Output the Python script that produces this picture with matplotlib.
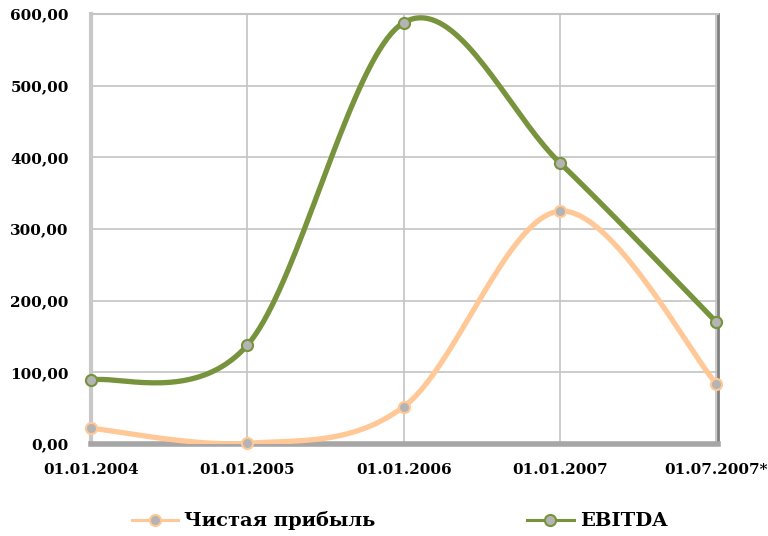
import matplotlib
matplotlib.use("Agg")
import matplotlib.pyplot as plt
import numpy as np

# chart data
dates = ["01.01.2004", "01.01.2005", "01.01.2006", "01.01.2007", "01.07.2007*"]
net_profit = [22.0, 1.0, 52.0, 325.0, 84.0]
ebitda = [89.0, 138.0, 588.0, 392.0, 170.0]
y_ticks = [0, 100, 200, 300, 400, 500, 600]

PROFIT_COLOR = "#FFC896"
EBITDA_COLOR = "#77933C"
FONT = "DejaVu Serif"


def smooth(xs, ys, steps=40):
    # Excel-like smoothed line: cubic Bezier with Catmull-Rom control points
    xs = np.asarray(xs, float)
    ys = np.asarray(ys, float)
    pts = np.column_stack([xs, ys])
    n = len(pts)
    out = []
    for i in range(n - 1):
        p0 = pts[max(i - 1, 0)]
        p1 = pts[i]
        p2 = pts[i + 1]
        p3 = pts[min(i + 2, n - 1)]
        c1 = p1 + (p2 - p0) / 6.0
        c2 = p2 - (p3 - p1) / 6.0
        t = np.linspace(0, 1, steps)[:, None]
        seg = ((1 - t) ** 3) * p1 + 3 * ((1 - t) ** 2) * t * c1 \
            + 3 * (1 - t) * t ** 2 * c2 + t ** 3 * p2
        out.append(seg if i == 0 else seg[1:])
    seg = np.vstack(out)
    return seg[:, 0], seg[:, 1]


fig = plt.figure(figsize=(7.68, 5.36), dpi=100)
ax = fig.add_axes([91 / 768, 1 - 444 / 536, (718 - 91) / 768, (444 - 14) / 536])

x = np.arange(len(dates))
for values, color, label in [
    (net_profit, PROFIT_COLOR, "Чистая прибыль"),
    (ebitda, EBITDA_COLOR, "EBITDA"),
]:
    sx, sy = smooth(x, values)
    ax.plot(sx, sy, color=color, lw=3.8, solid_capstyle="round", zorder=3)
    ax.plot(x, values, ls="none", marker="o", ms=8, mfc="#b4b4b4",
            mec=color, mew=1.5, zorder=5, clip_on=False)
    # legend proxy
    ax.plot([], [], color=color, lw=2.2, marker="o", ms=8, mfc="#b4b4b4",
            mec=color, mew=1.5, label=label)

ax.set_xlim(0, 4.01)
ax.set_ylim(0, 600)
ax.set_xticks(x)
ax.set_xticklabels(dates)
ax.set_yticks(y_ticks)
ax.set_yticklabels([f"{v:.2f}".replace(".", ",") for v in y_ticks])
ax.tick_params(length=0)
ax.tick_params(axis="y", pad=16)
ax.tick_params(axis="x", pad=14)
for lbl in ax.get_xticklabels() + ax.get_yticklabels():
    lbl.set_fontfamily(FONT)
    lbl.set_fontweight("bold")
    lbl.set_fontsize(11)

ax.grid(True, color="#c4c4c4", lw=1.2)
ax.set_axisbelow(True)
ax.spines["left"].set_color("#c8c8c8")
ax.spines["left"].set_linewidth(3)
ax.spines["bottom"].set_color("#a6a6a6")
ax.spines["bottom"].set_linewidth(4)
ax.spines["right"].set_color("#7f7f7f")
ax.spines["right"].set_linewidth(2)
ax.spines["top"].set_color("#c4c4c4")
ax.spines["top"].set_linewidth(1.5)

handles, labels = ax.get_legend_handles_labels()
fig.legend(handles, labels, loc="center", bbox_to_anchor=(0.52, 0.028),
           ncol=2, frameon=False, columnspacing=7.8, handlelength=2.4,
           handletextpad=0.3,
           prop={"family": FONT, "weight": "bold", "size": 14})

fig.savefig("out.png", dpi=100)
